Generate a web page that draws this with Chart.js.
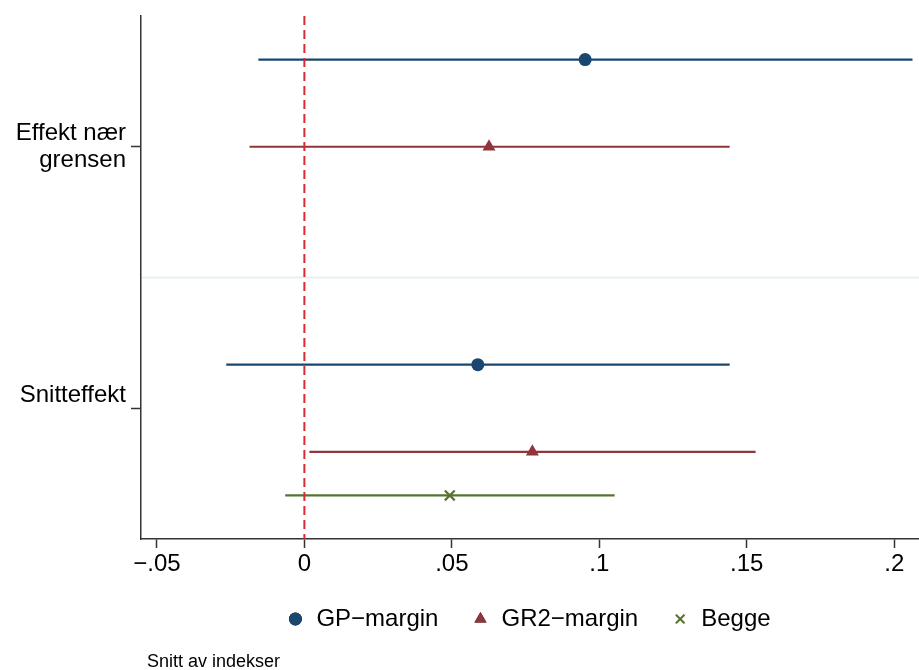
<!DOCTYPE html>
<html>
<head>
<meta charset="utf-8">
<script src="https://cdn.jsdelivr.net/npm/chart.js@4/dist/chart.umd.min.js"></script>
<style>
  html, body { margin: 0; padding: 0; background: #fff; }
  canvas { display: block; }
</style>
</head>
<body>
<canvas id="chart" width="919" height="670"></canvas>
<script>
// categories (rows) and series
const categories = ["Effekt nær grensen", "Snitteffekt"];
const seriesNames = ["GP−margin", "GR2−margin", "Begge"];

// point estimates and confidence bounds, one value per category
const gpEst = [0.0952, 0.0588];
const gpLow = [-0.0156, -0.0265];
const gpHigh = [0.2062, 0.1442];

const gr2Est = [0.0626, 0.0773];
const gr2Low = [-0.0186, 0.0017];
const gr2High = [0.1442, 0.1530];

const beggeEst = [null, 0.0493];
const beggeLow = [null, -0.0065];
const beggeHigh = [null, 0.1052];

const xTicks = [-0.05, 0, 0.05, 0.1, 0.15, 0.2];
const noteText = "Snitt av indekser";

// dodge of each series within a category row
const offsets = [[-1 / 3, -1 / 6], [0, 1 / 6], [null, 1 / 3]];

const colors = ["#1a476f", "#90353b", "#55752f"];
const pointStyles = ["circle", "triangle", "crossRot"];
const pointRadius = [6.5, 7.5, 7];
const FONT = "'Liberation Sans', Arial, Helvetica, sans-serif";

const fmtTick = (v) => {
  if (Math.abs(v) < 1e-9) return "0";
  let s = Math.abs(v).toFixed(2).replace(/0+$/, "").replace(/^0/, "");
  return (v < 0 ? "\u2212" : "") + s;
};

const allSeries = [
  [gpEst, gpLow, gpHigh],
  [gr2Est, gr2Low, gr2High],
  [beggeEst, beggeLow, beggeHigh],
];

const datasets = [];
allSeries.forEach(([est, lo, hi], s) => {
  categories.forEach((cat, i) => {
    if (est[i] === null) return;
    const y = i + 1 + offsets[s][i];
    datasets.push({
      type: "line",
      label: "ci",
      data: [{ x: lo[i], y }, { x: hi[i], y }],
      borderColor: colors[s],
      borderWidth: 2.2,
      pointRadius: 0,
      order: 2,
    });
  });
  datasets.push({
    type: "scatter",
    label: seriesNames[s],
    data: categories
      .map((c, i) => (est[i] === null ? null : { x: est[i], y: i + 1 + offsets[s][i] }))
      .filter((p) => p !== null),
    backgroundColor: colors[s],
    borderColor: colors[s],
    borderWidth: s === 2 ? 2.2 : 0,
    pointStyle: pointStyles[s],
    pointRadius: pointRadius[s],
    order: 1,
  });
});

// zero line, row separator, legend and note
const extras = {
  id: "extras",
  beforeDatasetsDraw(chart) {
    const { ctx, chartArea, scales } = chart;
    const ySep = scales.y.getPixelForValue(1.5);
    ctx.save();
    ctx.strokeStyle = "#e6f0f3";
    ctx.lineWidth = 2;
    ctx.beginPath();
    ctx.moveTo(chartArea.left + 1, ySep);
    ctx.lineTo(chartArea.right, ySep);
    ctx.stroke();
    ctx.restore();
  },
  afterDatasetsDraw(chart) {
    const { ctx, chartArea, scales } = chart;
    const x0 = scales.x.getPixelForValue(0);
    ctx.save();
    ctx.strokeStyle = "#d92b36";
    ctx.lineWidth = 2;
    ctx.setLineDash([9, 5]);
    ctx.beginPath();
    ctx.moveTo(x0, chartArea.top);
    ctx.lineTo(x0, chartArea.bottom);
    ctx.stroke();
    ctx.restore();
  },
  afterDraw(chart) {
    const { ctx, chartArea } = chart;
    ctx.save();
    ctx.font = "24px " + FONT;
    ctx.textBaseline = "middle";
    ctx.fillStyle = "#000";
    const gap = 21, space = 42;
    const widths = seriesNames.map((n) => ctx.measureText(n).width);
    let total = 6;
    widths.forEach((w, i) => { total += gap + w + (i < widths.length - 1 ? space : 0); });
    let x = (chartArea.left + chartArea.right) / 2 - total / 2 + 6;
    const y = 619;
    seriesNames.forEach((n, i) => {
      Chart.helpers.drawPoint(ctx, {
        pointStyle: pointStyles[i],
        radius: [6.5, 7, 6][i],
        borderWidth: i === 2 ? 2 : 0,
      }, x, y);
      ctx.fillStyle = colors[i];
      ctx.strokeStyle = colors[i];
      ctx.fill();
      if (i === 2) {
        ctx.lineWidth = 2;
        ctx.stroke();
      }
      ctx.fillStyle = "#000";
      ctx.fillText(n, x + gap, y);
      x += gap + widths[i] + space;
    });
    ctx.font = "18px " + FONT;
    ctx.textBaseline = "alphabetic";
    ctx.fillText(noteText, 147, 667);
    ctx.restore();
  },
};

new Chart(document.getElementById("chart"), {
  type: "scatter",
  data: { datasets },
  options: {
    responsive: false,
    animation: false,
    layout: { autoPadding: false, padding: { top: 16, right: 0, bottom: 86, left: 0 } },
    plugins: { legend: { display: false }, tooltip: { enabled: false } },
    scales: {
      x: {
        type: "linear",
        min: -0.0554,
        max: 0.2084,
        afterBuildTicks: (scale) => { scale.ticks = xTicks.map((v) => ({ value: v })); },
        afterFit: (scale) => {
          scale.height = 45;
          scale.paddingLeft = 0;
          scale.paddingRight = 0;
        },
        grid: { drawOnChartArea: false, tickLength: 9, tickColor: "#333", tickWidth: 1.5 },
        border: { color: "#333", width: 1.5 },
        ticks: {
          padding: 2,
          color: "#000",
          font: { family: FONT, size: 24 },
          maxRotation: 0,
          callback: (v) => fmtTick(v),
        },
      },
      y: {
        type: "linear",
        reverse: true,
        min: 0.5,
        max: 2.5,
        afterBuildTicks: (scale) => { scale.ticks = categories.map((c, i) => ({ value: i + 1 })); },
        afterFit: (scale) => {
          scale.width = 141;
          scale.paddingTop = 0;
          scale.paddingBottom = 0;
        },
        grid: { drawOnChartArea: false, tickLength: 10, tickColor: "#333", tickWidth: 1.5 },
        border: { color: "#333", width: 1.5 },
        ticks: {
          padding: 5,
          color: "#000",
          font: { family: FONT, size: 24, lineHeight: 1.1 },
          callback: (v) => {
            const c = categories[Math.round(v) - 1];
            // Stata wraps long labels; short one sits above its tick
            return c === "Effekt nær grensen" ? ["Effekt nær", "grensen"] : [c, ""];
          },
        },
      },
    },
  },
  plugins: [extras],
});
</script>
</body>
</html>
